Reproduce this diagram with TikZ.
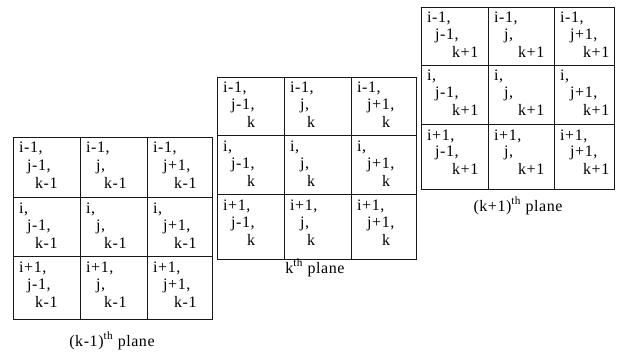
\documentclass[tikz,border=0pt]{standalone}
\usepackage{fontspec}
\setmainfont[LetterSpace=3.5]{Liberation Serif}
\newcommand\ilab[1]{\ifcase#1 i-1,\or i,\or i+1,\fi}
\newcommand\jlab[1]{\ifcase#1 j-1,\or j,\or j+1,\fi}
\newcommand\drawplane[5]{%
  % #1 name, #2 x array, #3 y array, #4 k text, #5 third-line offsets
  \foreach \r in {0,1,2}{
    \foreach \c in {0,1,2}{
      \pgfmathsetmacro\xl{#2[\c]}
      \pgfmathsetmacro\yt{#3[\r]}
      \pgfmathsetmacro\ltwo{{14,16,16}[\c]}
      \pgfmathsetmacro\lthree{#5[\c]}
      \node[txt] (#1-\r\c-a) at (\xl+6,\yt+16) {\ilab{\r}};
      \node[txt] (#1-\r\c-b) at (\xl+\ltwo,\yt+33) {\jlab{\c}};
      \node[txt] (#1-\r\c-c) at (\xl+\lthree,\yt+51) {#4};
    }
  }
  \pgfmathsetmacro\xa{#2[0]}\pgfmathsetmacro\xb{#2[1]}
  \pgfmathsetmacro\xc{#2[2]}\pgfmathsetmacro\xd{#2[3]}
  \pgfmathsetmacro\ya{#3[0]}\pgfmathsetmacro\yb{#3[1]}
  \pgfmathsetmacro\yc{#3[2]}\pgfmathsetmacro\yd{#3[3]}
  \draw[gridline] (\xa,\ya) rectangle (\xd,\yd);
  \draw[gridline] (\xb,\ya) -- (\xb,\yd) (\xc,\ya) -- (\xc,\yd)
                  (\xa,\yb) -- (\xd,\yb) (\xa,\yc) -- (\xd,\yc);
}
\begin{document}
\begin{tikzpicture}[x=1pt,y=-1pt,
  every node/.style={inner sep=0pt,font=\fontsize{16}{18}\selectfont},
  txt/.style={anchor=base west},
  planelabel/.style={anchor=base},
  gridline/.style={line width=0.9pt,draw=black!90}]
\useasboundingbox (0,0) rectangle (622,353);
\fill[white] (0,0) rectangle (622,353);
\drawplane{p1}{{13,80,147,212}}{{137,197,256,319}}{k-1}{{22,24,27}}
\drawplane{p2}{{217,284,351,416}}{{77,135,194,259}}{k}{{30,23,31}}
\drawplane{p3}{{421,488,554,614}}{{7,65,124,189}}{k+1}{{31,30,29}}
\node[planelabel] (l1) at (112,346) {(k-1)\textsuperscript{th} plane};
\node[planelabel] (l2) at (315,273) {k\textsuperscript{th} plane};
\node[planelabel] (l3) at (518,211) {(k+1)\textsuperscript{th} plane};
\end{tikzpicture}
\end{document}
